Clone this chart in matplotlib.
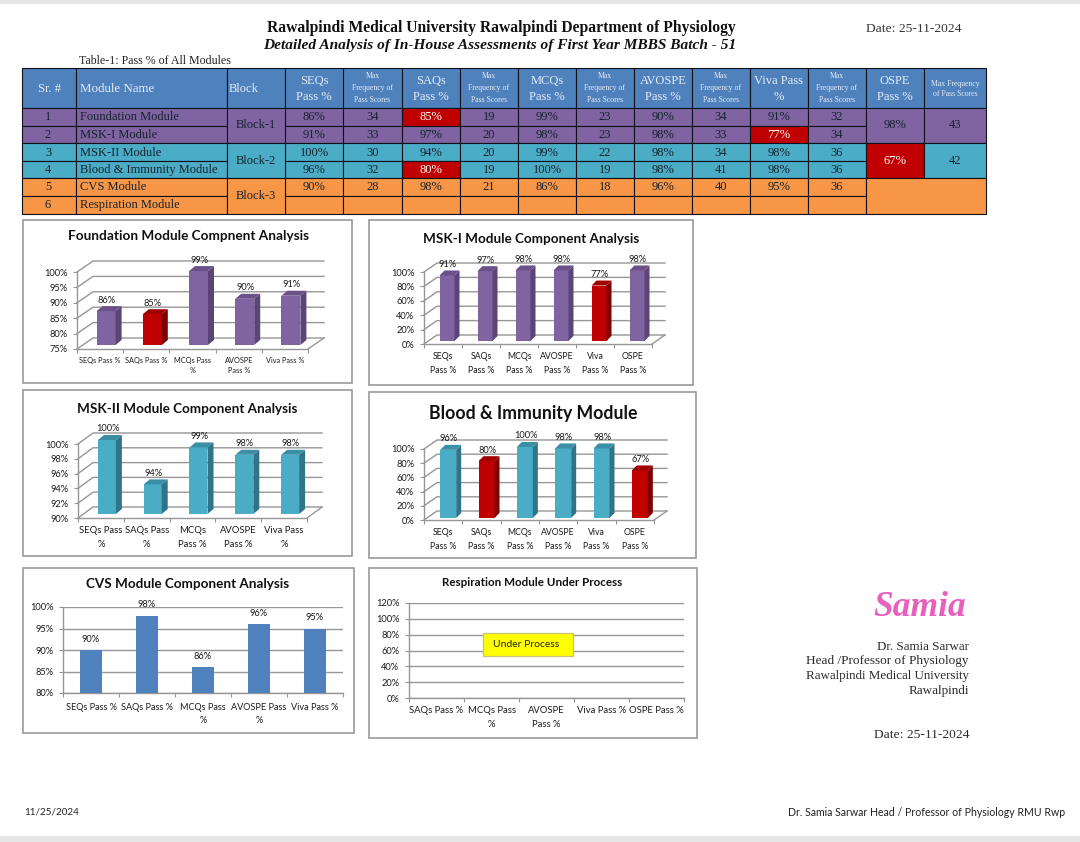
import matplotlib
matplotlib.use("Agg")
import matplotlib.pyplot as plt
from matplotlib.patches import Rectangle

# ---------- data ----------
sr_numbers = [1, 2, 3, 4, 5, 6]
module_names = ["Foundation Module", "MSK-I Module", "MSK-II Module",
                "Blood & Immunity Module", "CVS Module", "Respiration Module"]
block_names = ["Block-1", "Block-2", "Block-3"]
seqs_pass = [86, 91, 100, 96, 90, None]
seqs_freq = [34, 33, 30, 32, 28, None]
saqs_pass = [85, 97, 94, 80, 98, None]
saqs_freq = [19, 20, 20, 19, 21, None]
mcqs_pass = [99, 98, 99, 100, 86, None]
mcqs_freq = [23, 23, 22, 19, 18, None]
avospe_pass = [90, 98, 98, 98, 96, None]
avospe_freq = [34, 33, 34, 41, 40, None]
viva_pass = [91, 77, 98, 98, 95, None]
viva_freq = [32, 34, 36, 36, 36, None]
ospe_pass = [98, 67]
ospe_freq = [43, 42]

foundation_vals = [seqs_pass[0], saqs_pass[0], mcqs_pass[0], avospe_pass[0], viva_pass[0]]
mski_vals = [seqs_pass[1], saqs_pass[1], mcqs_pass[1], avospe_pass[1], viva_pass[1], ospe_pass[0]]
mskii_vals = [seqs_pass[2], saqs_pass[2], mcqs_pass[2], avospe_pass[2], viva_pass[2]]
blood_vals = [seqs_pass[3], saqs_pass[3], mcqs_pass[3], avospe_pass[3], viva_pass[3], ospe_pass[1]]
cvs_vals = [seqs_pass[4], saqs_pass[4], mcqs_pass[4], avospe_pass[4], viva_pass[4]]

foundation_labels = ["SEQs Pass %", "SAQs Pass %", "MCQs Pass\n%", "AVOSPE\nPass %", "Viva Pass %"]
six_labels = ["SEQs\nPass %", "SAQs\nPass %", "MCQs\nPass %", "AVOSPE\nPass %", "Viva\nPass %", "OSPE\nPass %"]
mskii_labels = ["SEQs Pass\n%", "SAQs Pass\n%", "MCQs\nPass %", "AVOSPE\nPass %", "Viva Pass\n%"]
cvs_labels = ["SEQs Pass %", "SAQs Pass %", "MCQs Pass\n%", "AVOSPE Pass\n%", "Viva Pass %"]
resp_labels = ["SAQs Pass %", "MCQs Pass\n%", "AVOSPE\nPass %", "Viva Pass %", "OSPE Pass %"]

# ---------- style ----------
W, H = 1080, 842
SANS = "Lato"
SERIF = "Liberation Serif"
PURPLE = ("#8064A2", "#5B4476", "#6B5189")
TEAL = ("#4BACC6", "#2F7488", "#3A8FA6")
RED = ("#C00000", "#7E0000", "#A00000")
BLUE = "#4F81BD"
ORANGE = "#F79646"
GRID = "#969696"
INK = "#1A1A1A"

fig = plt.figure(figsize=(W / 100, H / 100), dpi=100, facecolor="white")
page = fig.add_axes([0, 0, 1, 1], zorder=0)
page.set_xlim(0, W)
page.set_ylim(H, 0)
page.axis("off")
renderer = fig.canvas.get_renderer()


def fit(t, width):
    cur = t.get_window_extent(renderer).width
    t.set_fontsize(t.get_fontsize() * width / cur)
    return t


def txt(x, y, s, ha="left", va="center", size=9, family=SERIF, color=INK, width=None, **kw):
    t = page.text(x, y, s, ha=ha, va=va, fontsize=size, family=family, color=color, **kw)
    if width:
        fit(t, width)
    return t


page.add_patch(Rectangle((0, 0), W, 4, color="#E6E6E6", lw=0))
page.add_patch(Rectangle((0, 836), W, 6, color="#E6E6E6", lw=0))

# ---------- headings ----------
txt(501, 28, "Rawalpindi Medical University Rawalpindi Department of Physiology", ha="center",
    weight="bold", color="#111111", width=467)
txt(500, 45, "Detailed Analysis of In-House Assessments of First Year MBBS Batch - 51", ha="center",
    weight="bold", style="italic", color="#111111", width=474)
txt(866, 29, "Date: 25-11-2024", width=95, color="#333333")
txt(79, 61, "Table-1: Pass % of All Modules", width=152, color="#222222")

# ---------- table ----------
col_x = [22, 76, 227, 285, 343, 402, 460, 518, 576, 634, 692, 750, 808, 866, 924, 986]
row_y = [68, 108, 125.5, 143, 161, 178, 196, 213.5]
row_colors = [PURPLE[0], PURPLE[0], TEAL[0], TEAL[0], ORANGE, ORANGE]
LINE = "#101018"


def cell(c0, c1, r0, r1, color):
    page.add_patch(Rectangle((col_x[c0], row_y[r0]), col_x[c1] - col_x[c0], row_y[r1] - row_y[r0],
                             facecolor=color, edgecolor=LINE, lw=0.8, zorder=2))


CT = "#16222E"
for c in range(15):
    cell(c, c + 1, 0, 1, BLUE)
HEAD = "#E4ECF5"
txt((col_x[0] + col_x[1]) / 2, 89, "Sr. #", ha="center", color=HEAD, size=9, zorder=5)
txt(80, 89, "Module Name", color=HEAD, zorder=5, width=74)
txt(229, 89, "Block", color=HEAD, zorder=5, width=30)
heads = ["SEQs\nPass %", "SAQs\nPass %", "MCQs\nPass %", "AVOSPE\nPass %", "Viva Pass\n%", "OSPE\nPass %"]
for k, h in enumerate(heads):
    c = 3 + 2 * k
    cx = (col_x[c] + col_x[c + 1]) / 2
    a, b = h.split("\n")
    txt(cx, 81, a, ha="center", color=HEAD, size=9, zorder=5)
    txt(cx, 97, b, ha="center", color=HEAD, size=9, zorder=5)
    cx2 = (col_x[c + 1] + col_x[c + 2]) / 2
    if k < 5:
        for y, s in zip((76, 88, 100), ("Max", "Frequency of", "Pass Scores")):
            txt(cx2, y, s, ha="center", color=HEAD, size=5.6, zorder=5)
    else:
        for y, s in zip((84, 94), ("Max Frequency", "of Pass Scores")):
            txt(cx2, y, s, ha="center", color=HEAD, size=5.6, zorder=5)

# body
BODY = 9
for r in range(6):
    col = row_colors[r]
    cell(0, 1, r + 1, r + 2, col)
    cell(1, 2, r + 1, r + 2, col)
    yc = (row_y[r + 1] + row_y[r + 2]) / 2 + 0.5
    txt(48, yc, str(sr_numbers[r]), ha="center", color=CT, size=BODY, zorder=5)
    txt(80, yc, module_names[r], color=CT, size=BODY, zorder=5)
    series = [seqs_pass, seqs_freq, saqs_pass, saqs_freq, mcqs_pass, mcqs_freq,
              avospe_pass, avospe_freq, viva_pass, viva_freq]
    for k, s in enumerate(series):
        v = s[r]
        is_pct = k % 2 == 0
        red = is_pct and v is not None and v <= 85
        cell(3 + k, 4 + k, r + 1, r + 2, RED[0] if red else col)
        if v is not None:
            txt((col_x[3 + k] + col_x[4 + k]) / 2, yc, f"{v}%" if is_pct else str(v), ha="center",
                color="white" if red else CT, size=BODY, zorder=5)

for i, name in enumerate(block_names):
    cell(2, 3, 2 * i + 1, 2 * i + 3, row_colors[2 * i])
    txt((col_x[2] + col_x[3]) / 2, row_y[2 * i + 2], name, ha="center", color=CT, size=BODY, zorder=5)

for i in range(2):
    red = ospe_pass[i] <= 85
    face = RED[0] if red else row_colors[2 * i]
    cell(13, 14, 2 * i + 1, 2 * i + 3, face)
    cell(14, 15, 2 * i + 1, 2 * i + 3, row_colors[2 * i])
    ym = row_y[2 * i + 2]
    txt((col_x[13] + col_x[14]) / 2, ym, f"{ospe_pass[i]}%", ha="center",
        color="white" if red else CT, size=BODY, zorder=5)
    txt((col_x[14] + col_x[15]) / 2, ym, str(ospe_freq[i]), ha="center", color=CT, size=BODY, zorder=5)
cell(13, 15, 5, 7, ORANGE)


# ---------- charts ----------
def axes_px(x0, x1, yt, yb):
    ax = fig.add_axes([x0 / W, 1 - yb / H, (x1 - x0) / W, (yb - yt) / H], zorder=3)
    ax.patch.set_alpha(0)
    return ax


def frame(x0, y0, x1, y1):
    page.add_patch(Rectangle((x0, y0), x1 - x0, y1 - y0, facecolor="white",
                             edgecolor="#999999", lw=1.2, zorder=1))


def style_axes(ax, labels, ymin, ymax, step, xlab_fs, xpad, spacing, tick_fs=6.7, ypad=4):
    n = len(labels)
    ax.set_xlim(-0.5, n - 0.5)
    ax.set_ylim(ymin, ymax)
    ticks = list(range(ymin, ymax + 1, step))
    ax.set_yticks(ticks)
    ax.set_yticklabels([f"{t}%" for t in ticks], fontsize=tick_fs, family=SANS, color=INK)
    ax.set_xticks([i - 0.5 for i in range(n + 1)])
    ax.set_xticklabels([])
    ax.set_xticks(range(n), labels=labels, minor=True, fontsize=xlab_fs, family=SANS, color=INK,
                  linespacing=spacing)
    ax.tick_params(axis="x", which="minor", length=0, pad=xpad)
    ax.tick_params(axis="x", which="major", length=3, width=0.8, color=GRID)
    ax.tick_params(axis="y", length=3, width=0.8, color=GRID, pad=ypad)
    for s in ("top", "right"):
        ax.spines[s].set_visible(False)
    for s in ("left", "bottom"):
        ax.spines[s].set_color(GRID)
        ax.spines[s].set_linewidth(1.0)
    return ticks


def chart3d(rect, ylim, step, values, labels, palette, title, title_xy, title_w,
            back, base, side, barw, xlab_fs, xpad, spacing, val_fs=6.7):
    x0, x1, yt, yb = rect
    ymin, ymax = ylim
    ax = axes_px(*rect)
    ticks = style_axes(ax, labels, ymin, ymax, step, xlab_fs, xpad, spacing)
    n = len(values)
    ux = (x1 - x0) / n
    uy = (yb - yt) / (ymax - ymin)
    bdx, bdy = back[0] / ux, back[1] / uy
    sdx, sdy = side[0] / ux, side[1] / uy
    odx, ody = base[0] / ux, base[1] / uy
    hw = barw / ux / 2
    for t in ticks:
        ax.plot([-0.5, -0.5 + bdx, n - 0.5 + bdx], [t, t + bdy, t + bdy],
                color=GRID, lw=1.0, clip_on=False, zorder=1)
    ax.plot([n - 0.5, n - 0.5 + bdx], [ymin, ymin + bdy], color=GRID, lw=1.0, clip_on=False, zorder=1)
    for i, v in enumerate(values):
        fc, sc, tc = RED if v <= 85 else palette
        cx = i + odx
        bot = ymin + ody
        top = v + ody
        ax.bar(cx, v - ymin, bottom=bot, width=2 * hw, color=fc, clip_on=False, zorder=3)
        ax.fill([cx + hw, cx + hw + sdx, cx + hw + sdx, cx + hw],
                [bot, bot + sdy, top + sdy, top], color=sc, lw=0, clip_on=False, zorder=3)
        ax.fill([cx - hw, cx - hw + sdx, cx + hw + sdx, cx + hw],
                [top, top + sdy, top + sdy, top], color=tc, lw=0, clip_on=False, zorder=3)
        ax.annotate(f"{v}%", (cx, top), xytext=(0.5, 11 * 0.72), textcoords="offset points",
                    ha="center", va="center", fontsize=val_fs, family=SANS, color=INK, zorder=5,
                    annotation_clip=False)
    txt(title_xy[0], title_xy[1], title, ha="center", family=SANS, weight="bold", color="#111111",
        width=title_w, zorder=4)
    return ax


frame(23, 220, 352, 383)
chart3d((77, 308, 272, 349), (75, 100), 5, foundation_vals, foundation_labels, PURPLE,
        "Foundation Module Compnent Analysis", (188, 236), 240,
        (16, 11), (6, 4), (6, 5), 19, 5.3, 6, 1.45)

frame(369, 220, 693, 385)
chart3d((424, 652, 272, 344), (0, 100), 20, mski_vals, six_labels, PURPLE,
        "MSK-I Module Component Analysis", (531, 239), 215,
        (13, 9), (4, 3), (5, 5), 15, 6.3, 6, 1.72)

frame(23, 390, 352, 556)
chart3d((78, 307, 444, 518), (90, 100), 2, mskii_vals, mskii_labels, TEAL,
        "MSK-II Module Component Analysis", (187, 409), 219,
        (15, 11), (6, 4), (6, 5), 18, 6.8, 6, 1.6)

frame(369, 392, 696, 558)
chart3d((424, 654, 449, 520), (0, 100), 20, blood_vals, six_labels, TEAL,
        "Blood & Immunity Module", (533, 413), 208,
        (13, 9), (5, 2), (5, 5), 16, 6.3, 6, 1.72)

# CVS (flat bars)
frame(23, 568, 354, 733)
ax = axes_px(63, 343, 607, 693)
ticks = style_axes(ax, cvs_labels, 80, 100, 5, 6.6, 7, 1.65)
ax.set_axisbelow(True)
ax.grid(axis="y", which="major", color=GRID, lw=1.0)
ax.bar(range(len(cvs_vals)), [v - 80 for v in cvs_vals], bottom=80, width=0.4, color=BLUE, zorder=3)
for i, v in enumerate(cvs_vals):
    ax.annotate(f"{v}%", (i, v), xytext=(0, 11 * 0.72), textcoords="offset points", ha="center",
                va="center", fontsize=6.7, family=SANS, color=INK, annotation_clip=False)
txt(188, 584, "CVS Module Component Analysis", ha="center", family=SANS, weight="bold",
    color="#111111", width=202, zorder=4)

# Respiration (empty)
frame(369, 568, 697, 738)
ax = axes_px(409, 684, 603, 698)
ticks = style_axes(ax, resp_labels, 0, 120, 20, 6.8, 6, 1.6)
ax.set_axisbelow(True)
ax.grid(axis="y", which="major", color=GRID, lw=1.0)
txt(532, 583, "Respiration Module Under Process", ha="center", family=SANS, weight="bold",
    color="#111111", width=180, zorder=4)
ax.add_patch(Rectangle((0.269, 0.442), 0.327, 0.242, transform=ax.transAxes, facecolor="#FFFF00",
                       edgecolor="#C9C37A", lw=0.9, zorder=5))
ax.text(0.425, 0.56, "Under Process", transform=ax.transAxes, ha="center", va="center", fontsize=7.5,
        family=SANS, color="#222222", zorder=10)

# ---------- signature block ----------
txt(873, 607, "Samia", family=SERIF, style="italic", weight="bold", color="#E860BE", width=93)
for y, s, w in ((647, "Dr. Samia Sarwar", 92), (661, "Head /Professor of Physiology", 163),
                (676, "Rawalpindi Medical University", 164), (691, "Rawalpindi", 61)):
    txt(969, y, s, ha="right", width=w, color="#2A2A2A")
txt(969, 735, "Date: 25-11-2024", ha="right", width=95, color="#2A2A2A")
txt(24, 812, "11/25/2024", family=SANS, width=55, color="#222222")
txt(1065, 812, "Dr. Samia Sarwar Head / Professor of Physiology RMU Rwp", ha="right", family=SANS,
    width=277, color="#222222")

fig.savefig("out.png", dpi=100, facecolor="white")
